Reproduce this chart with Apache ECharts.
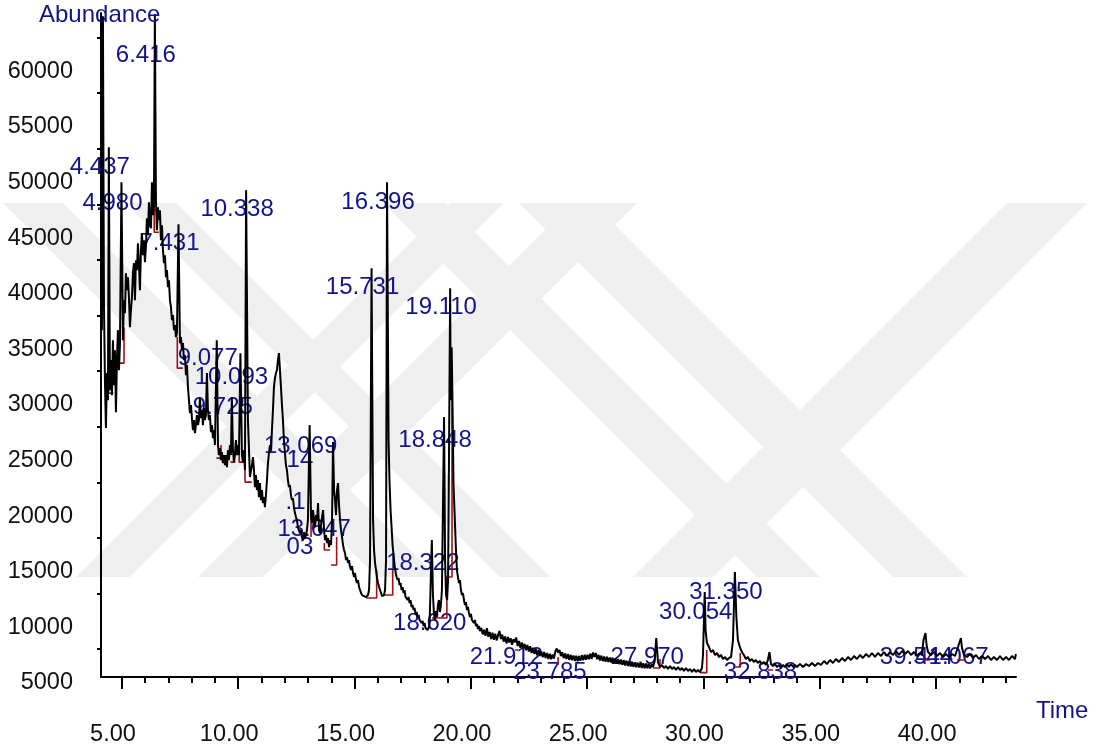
<!DOCTYPE html>
<html>
<head>
<meta charset="utf-8">
<script src="https://cdn.jsdelivr.net/npm/echarts@6/dist/echarts.min.js"></script>
<style>
  html, body { margin: 0; padding: 0; background: #ffffff; }
  #chart { width: 1100px; height: 754px; }
</style>
</head>
<body>
<div id="chart"></div>
<script>
// Total ion chromatogram: [retention time (min), abundance]
const traceEarly = [
  [4.140,36185],[4.183,64400],[4.226,38881],[4.269,31691],[4.312,27378],[4.355,32320],[4.398,29894],[4.437,52631],
  [4.484,30793],[4.527,33489],[4.570,30343],[4.613,35286],[4.656,31242],[4.699,34387],[4.742,28816],[4.785,33489],
  [4.828,36185],[4.871,32590],[4.914,34837],[4.980,49486],[5.043,35286],[5.086,38881],[5.129,37713],[5.172,41307],
  [5.215,39780],[5.258,40948],[5.301,39151],[5.344,36455],[5.387,37982],[5.430,39151],[5.473,41307],[5.516,42206],
  [5.559,38881],[5.602,42476],[5.645,41577],[5.688,44004],[5.731,42027],[5.774,39780],[5.817,43374],[5.860,44902],
  [5.903,42925],[5.946,44273],[5.989,42296],[6.032,43824],[6.075,46250],[6.118,44723],[6.161,47688],[6.204,45621],
  [6.247,45351],[6.290,49486],[6.333,46520],[6.376,47419],[6.416,64600],[6.462,47868],[6.505,45172],[6.548,47239],
  [6.591,46071],[6.634,46969],[6.677,44273],[6.720,45621],[6.763,43374],[6.806,42206],[6.849,42925],[6.892,40948],
  [6.935,41577],[6.978,40049],[7.021,40678],[7.064,38881],[7.107,38252],[7.150,37084],[7.193,37534],[7.236,36185],
  [7.279,36635],[7.322,35556],[7.365,35915],[7.431,45711],[7.494,35017],[7.537,35556],[7.580,34387],[7.623,35017],
  [7.666,33489],[7.709,33938],[7.752,32141],[7.795,33040],[7.838,31062],[7.881,29894],[7.924,28726],[7.967,29445],
  [8.009,28276],[8.052,27198],[8.095,28097],[8.138,26928],[8.181,27648],[8.224,28546],[8.267,27648],[8.310,28097],
  [8.353,30164],[8.396,28276],[8.439,28995],[8.482,27648],[8.525,29175],[8.568,28097],[8.611,28546],[8.654,32320],
  [8.697,28995],[8.740,28097],[8.783,28546],[8.826,27018],[8.869,27648],[8.912,26479],[8.955,27198],[8.998,25850],
  [9.077,35286],[9.129,25850],[9.170,24951],[9.213,25580],[9.256,24502],[9.299,25221],[9.342,24232],[9.385,24951],
  [9.428,24053],[9.471,24951],[9.514,23873],[9.557,25400],[9.600,24502],[9.643,25850],[9.686,24951],[9.725,30164],
  [9.772,25400],[9.815,24322],[9.858,24951],[9.901,26299],[9.944,24951],[9.987,25850],[10.030,24951],[10.093,34118],
  [10.159,24951],[10.202,24322],[10.245,25400],[10.288,23603],[10.338,48767]
];

const traceMiddle = [
  [10.417,28097],[10.503,22974],[10.589,24053],[10.632,24771],[10.675,23603],[10.718,22075],[10.761,23154],[10.804,21806],
  [10.847,22704],[10.890,21177],[10.933,22435],[10.976,20907],[11.019,21806],[11.062,20637],[11.105,21177],[11.148,20278],
  [11.191,21357],[11.234,22704],[11.277,24232],[11.320,25131],[11.363,25850],[11.406,25400],[11.449,27198],[11.492,28995],
  [11.535,31062],[11.578,31871],[11.621,32320],[11.664,32590],[11.707,33489],[11.750,34118],[11.793,32590],[11.836,31062],
  [11.879,29445],[11.922,28097],[11.964,26299],[12.007,25131],[12.050,24053],[12.093,23603],[12.136,22704],[12.179,22075],
  [12.222,22255],[12.265,21357],[12.308,20907],[12.351,21087],[12.394,20278],[12.437,19739],[12.480,19379],[12.523,19110],
  [12.566,18481],[12.609,18211],[12.652,17941],[12.695,18211],[12.738,17582],[12.781,17312],[12.824,18031],[12.867,17492],
  [12.910,17761],[12.953,18211],[12.996,19110],[13.069,27648],[13.129,19379],[13.172,18840],[13.215,20008],[13.258,19110],
  [13.301,18481],[13.344,19559],[13.387,19110],[13.430,20637],[13.473,18211],[13.516,17941],[13.559,18660],[13.602,19379],
  [13.647,20008],[13.688,18211],[13.731,17312],[13.774,17761],[13.817,17043],[13.860,17492],[13.903,16683],[13.946,17312],
  [13.989,16863],[14.032,19110],[14.075,26119],[14.118,21806],[14.161,20907],[14.204,19559],[14.247,21806],[14.290,22435],
  [14.333,20458],[14.376,19110],[14.419,18211],[14.462,17582],[14.505,16863],[14.548,16413],[14.591,16144],[14.634,15515],
  [14.677,15784],[14.720,15245],[14.763,15515],[14.806,14886],[14.849,14616],[14.892,14976],[14.935,14346],[14.978,13987],
  [15.021,14346],[15.064,13717],[15.107,13448],[15.150,13717],[15.193,13088],[15.236,12819],[15.279,12549],[15.322,12369],
  [15.365,12190],[15.408,12279],[15.451,12100],[15.494,12190],[15.537,12100],[15.580,12369],[15.623,12819],[15.666,15515],
  [15.731,41757],[15.795,19110],[15.838,16413],[15.881,15245],[15.924,14616],[15.967,13897],[16.010,13448],[16.053,13088],
  [16.096,12819],[16.139,12549],[16.182,12279],[16.225,12190],[16.268,12369],[16.311,12819],[16.354,15515],[16.396,49486],
  [16.462,26299],[16.505,22435],[16.548,20008],[16.591,18481],[16.634,16863],[16.677,15964],[16.720,15065],[16.763,14436],
  [16.806,13987],[16.849,13717],[16.892,13897],[16.935,13268],[16.978,13448],[17.021,12819],[17.064,13088],[17.107,12549],
  [17.150,12819],[17.193,12190],[17.236,12369],[17.279,11920],[17.322,12190],[17.365,11650],[17.408,11920],[17.451,11291],
  [17.494,11471],[17.537,11021],[17.580,11201],[17.623,10662],[17.666,10842],[17.709,10392],[17.752,10572],[17.795,10123],
  [17.838,10302],[17.881,9853],[17.924,10033],[17.967,9583],[18.010,9853],[18.052,9404],[18.095,9583],[18.138,9224],
  [18.181,9404],[18.224,9673],[18.322,17312],[18.370,12369],[18.412,10752],[18.455,10123],[18.498,10932],[18.541,10392],
  [18.584,11471],[18.627,11920],[18.670,10842],[18.713,11471],[18.756,12819],[18.848,28366],[18.891,15515],[18.934,12369],
  [18.977,11920],[19.020,13717],[19.062,25400],[19.110,39960],[19.132,29894],[19.175,34657],[19.209,29894],[19.252,22435],
  [19.316,18840],[19.359,16413],[19.402,14616],[19.445,13987],[19.488,13448],[19.531,13717],[19.574,12819],[19.617,12369],
  [19.660,12549],[19.703,11920],[19.746,11471],[19.789,11740],[19.832,11021],[19.875,11291],[19.918,10752],[19.961,10392],
  [20.003,10662],[20.046,10123],[20.089,10302],[20.132,9853],[20.175,10123],[20.218,9583],[20.261,9763],[20.304,9314],
  [20.347,9583],[20.390,9134]
];

const traceLate = [
  [20.45,9420],[20.51,8830],[20.57,9250],[20.63,8700],[20.69,9380],[20.75,8610],[20.81,9050],[20.87,8420],
  [20.93,8980],[20.99,8350],[21.05,8900],[21.11,8290],[21.17,8760],[21.23,9150],[21.29,8420],[21.35,8810],
  [21.41,8180],[21.47,8650],[21.53,8020],[21.59,8590],[21.65,8100],[21.71,8480],[21.77,7890],[21.83,8400],
  [21.89,8120],[21.95,8560],[22.01,7790],[22.07,8230],[22.13,7620],[22.19,8110],[22.25,7560],[22.31,7980],
  [22.37,7400],[22.43,7870],[22.49,7290],[22.55,7760],[22.61,7150],[22.67,7620],[22.73,7080],[22.79,7510],
  [22.85,6960],[22.91,7420],[22.97,6890],[23.03,7300],[23.09,6780],[23.15,7240],[23.21,6700],[23.27,7150],
  [23.33,6620],[23.39,7100],[23.45,6590],[23.51,7020],[23.57,6650],[23.63,7280],[23.69,7560],[23.75,7180],
  [23.81,7420],[23.87,6880],[23.93,7230],[23.99,6700],[24.05,7120],[24.11,6620],[24.17,7060],[24.23,6540],
  [24.29,6990],[24.35,6500],[24.41,6940],[24.47,6450],[24.53,6900],[24.59,6420],[24.65,6880],[24.71,6470],
  [24.77,6950],[24.83,6500],[24.89,7010],[24.95,6560],[25.01,6990],[25.07,6600],[25.13,7080],[25.19,6620],
  [25.25,7210],[25.31,6800],[25.37,7150],[25.43,6590],[25.49,6990],[25.55,6480],[25.61,6920],[25.67,6430],
  [25.73,6850],[25.79,6380],[25.85,6820],[25.91,6360],[25.97,6760],[26.03,6310],[26.09,6740],[26.15,6260],
  [26.21,6680],[26.27,6200],[26.33,6620],[26.39,6150],[26.45,6580],[26.51,6090],[26.57,6520],[26.63,6040],
  [26.69,6470],[26.75,5990],[26.81,6420],[26.87,5950],[26.93,6380],[26.99,5910],[27.05,6330],[27.11,5880],
  [27.17,6290],[27.23,5850],[27.29,6250],[27.35,5820],[27.41,6230],[27.47,5800],[27.53,6200],[27.59,5780],
  [27.65,6180],[27.71,5770],[27.77,6150],[27.83,5900],[27.90,6400],
  [27.970,8505],[28.044,6348],[28.130,5899],[28.216,6078],[28.302,5809],[28.388,5989],[28.474,5719],[28.560,5989],
  [28.646,5719],[28.732,5899],[28.818,5629],[28.904,5899],[28.990,5629],[29.076,5809],[29.162,5539],[29.248,5809],
  [29.334,5539],[29.420,5719],[29.506,5449],[29.592,5719],[29.678,5449],[29.764,5629],[29.850,5449],[29.936,5809],
  [29.979,6977],[30.054,12639],[30.090,9224],[30.151,8056],[30.237,7696],[30.323,7247],[30.409,7426],[30.495,6977],
  [30.581,7157],[30.667,6797],[30.753,6977],[30.839,6618],[30.925,6797],[31.011,6528],[31.097,6708],[31.183,6797],
  [31.269,8325],[31.350,14436],[31.414,10392],[31.479,8325],[31.565,7696],[31.651,7247],[31.737,6977],[31.823,6618],
  [31.909,6797],[31.995,6438],[32.081,6618],[32.167,6348],[32.253,6528],[32.339,6258],[32.425,6438],[32.511,6168],
  [32.597,6348],[32.683,6078],[32.769,6528],[32.838,7247],[32.902,6168],[32.988,5989],[33.074,6168],[33.160,5899],
  [33.246,6078],[33.332,5809],[33.418,6078],[33.504,5899],[33.590,6168],[33.676,5899],[33.762,6168],[33.848,5899],
  [33.934,6078],[34.020,5899],[34.149,6168],[34.278,5899],[34.407,6168],[34.536,5989],[34.665,6258],[34.794,5989],
  [34.923,6258],[35.052,6078],[35.181,6438],[35.310,6168],[35.439,6528],[35.568,6258],[35.697,6618],[35.826,6348],
  [35.955,6708],[36.084,6438],[36.213,6797],[36.342,6528],[36.471,6887],[36.599,6618],[36.728,6977],[36.857,6708],
  [36.986,7067],[37.115,6797],[37.244,7157],[37.373,6797],[37.502,7157],[37.631,6887],[37.760,7247],[37.889,6887],
  [38.018,7247],[38.147,6977],[38.276,7337],[38.405,6977],[38.534,7337],[38.663,7067],[38.792,7337],[38.921,6977],
  [39.050,7247],[39.179,6887],[39.308,7157],[39.394,6977],[39.458,8325],[39.544,8954],[39.590,7876],[39.652,7247],
  [39.781,6977],[39.910,7247],[40.039,6887],[40.168,7157],[40.297,6797],[40.426,7067],[40.555,6797],[40.684,7067],
  [40.813,6887],[40.899,7426],[41.067,8505],[41.113,7606],[41.199,6977],[41.328,6797],[41.457,7067],[41.586,6708],
  [41.715,6977],[41.844,6618],[41.973,6887],[42.102,6618],[42.231,6887],[42.360,6528],[42.489,6797],[42.618,6528],
  [42.747,6887],[42.876,6528],[43.005,6797],[43.134,6528],[43.263,6887],[43.392,6618],[43.430,7067]
];

// Integration baselines drawn under the integrated peaks
const baselines = [
  [[4.43,32320],[4.43,30523],[4.63,30523]],
  [[4.91,33219],[5.09,33219],[5.09,36455]],
  [[6.39,47419],[6.39,44992],[6.59,44992]],
  [[7.38,35556],[7.38,32770],[7.62,32770]],
  [[9.06,24681],[9.26,24681],[9.26,25850]],
  [[9.66,24322],[9.88,24322]],
  [[10.04,25580],[10.04,24322],[10.29,24322],[10.29,22525],[10.58,22525]],
  [[13.13,19379],[13.13,17582]],
  [[13.70,17043],[13.70,16413],[13.95,16413]],
  [[13.99,15065],[14.23,15065],[14.23,17582]],
  [[15.50,12100],[15.95,12100],[15.95,14616]],
  [[16.27,12369],[16.64,12369],[16.64,14616]],
  [[18.33,10302],[18.97,10302],[18.97,13987],[19.19,13987],[19.19,31062]],
  [[21.90,7426],[22.05,7426]],
  [[23.75,6797],[23.75,6078]],
  [[27.83,5809],[28.13,5809],[28.13,6618]],
  [[29.85,5389],[30.14,5389],[30.14,7426]],
  [[31.27,5899],[31.58,5899],[31.58,7157]],
  [[32.77,5629],[32.99,5629]],
  [[39.44,6528],[39.74,6528]],
  [[40.90,6528],[41.24,6528]]
];

// Peak annotations: text, anchor time, anchor abundance
const peakLabels = ['4.437','4.980','6.416','7.431','10.338','9.077','10.093','9.725','13.069','14','.1','13.647','03',
  '15.731','16.396','18.322','18.620','18.848','19.110','21.912','23.785','27.970','30.054','31.350','32.838','39.544','41.067'];
const labelTimes = [4.437,4.980,6.416,7.431,10.338,9.077,10.093,9.725,13.069,13.04,12.85,13.647,13.04,
  15.731,16.396,18.322,18.620,18.848,19.110,21.912,23.785,27.970,30.054,31.350,32.838,39.544,41.067];
const labelLevels = [50834,47598,60899,44004,47059,33669,31961,29265,25760,24502,20727,18301,16683,
  40049,47688,15245,9853,26299,38252,6797,5449,6797,10842,12639,5449,6797,6797];

const yLabelValues = [5000,10000,15000,20000,25000,30000,35000,40000,45000,50000,55000,60000];
const yTickValues = [7500,12500,17500,22500,27500,32500,37500,42500,47500,52500,57500,62500];
const xLabelValues = [5,10,15,20,25,30,35,40];
const xMinorValues = [5,6,7,8,9,10,11,12,13,14,15,16,17,18,19,20,21,22,23,24,25,26,27,28,29,30,31,32,33,34,35,36,37,38,39,40,41,42,43];

const FONT = '"Liberation Sans", Arial, sans-serif';
const NAVY = '#14148a';
const X_MIN = 4.1, X_MAX = 43.435;

// Faint page watermark: diagonal stripes between two horizontal cuts
const STRIPE_TOP = 203, STRIPE_BOTTOM = 577;
const stripes = [
  { dir: 'down', from: -200, to: -140 },
  { dir: 'down', from: -77, to: -27 },
  { dir: 'down', from: 180, to: 243 },
  { dir: 'down', from: 316, to: 390 },
  { dir: 'up', from: 653, to: 707 },
  { dir: 'up', from: 775, to: 840 },
  { dir: 'up', from: 1210, to: 1290 }
];
function stripePoints(s) {
  const y0 = STRIPE_TOP, y1 = STRIPE_BOTTOM;
  if (s.dir === 'down') {
    return [[s.from + y0, y0], [s.to + y0, y0], [s.to + y1, y1], [s.from + y1, y1]];
  }
  return [[s.from - y0, y0], [s.to - y0, y0], [s.to - y1, y1], [s.from - y1, y1]];
}
const watermark = stripes.map(s => ({
  type: 'polygon', z: -10, silent: true,
  shape: { points: stripePoints(s) },
  style: { fill: '#efefef' }
}));

const chart = echarts.init(document.getElementById('chart'), null, { renderer: 'canvas' });

const baselineSeries = baselines.map(seg => ({
  type: 'line',
  data: seg,
  showSymbol: false,
  symbol: 'none',
  z: 2,
  lineStyle: { color: '#a01212', width: 1.6 },
  silent: true
}));

chart.setOption({
  animation: false,
  backgroundColor: '#ffffff',
  grid: { left: 101, right: 84, top: 13, bottom: 77 },
  xAxis: [
    {
      type: 'value', min: X_MIN, max: X_MAX,
      axisLine: { lineStyle: { color: '#000', width: 2 } },
      axisTick: { customValues: xLabelValues, length: 12, lineStyle: { color: '#000', width: 2 } },
      axisLabel: {
        customValues: xLabelValues, formatter: v => v.toFixed(2),
        fontSize: 23.5, fontFamily: FONT, color: '#111', margin: 46, padding: [0, 18, 0, 0]
      },
      splitLine: { show: false }
    },
    {
      type: 'value', min: X_MIN, max: X_MAX, position: 'bottom',
      axisLine: { show: false },
      axisTick: { show: true, customValues: xMinorValues, length: 6, lineStyle: { color: '#000', width: 2 } },
      axisLabel: { show: false },
      splitLine: { show: false }
    }
  ],
  yAxis: {
    type: 'value', min: 5000, max: 64700,
    axisLine: { show: true, lineStyle: { color: '#000', width: 2 } },
    axisTick: { show: true, customValues: yTickValues, length: 4, lineStyle: { color: '#000', width: 2 } },
    axisLabel: {
      customValues: yLabelValues, formatter: v => String(v),
      fontSize: 23.5, fontFamily: FONT, color: '#111',
      margin: 28, verticalAlign: 'top', lineHeight: 12
    },
    splitLine: { show: false }
  },
  graphic: watermark.concat([
    { type: 'text', x: 39, y: 15, z: 10,
      style: { text: 'Abundance', fontSize: 24, fontFamily: FONT, fill: NAVY, verticalAlign: 'middle' } },
    { type: 'text', x: 1036, y: 711, z: 10,
      style: { text: 'Time', fontSize: 24, fontFamily: FONT, fill: NAVY, verticalAlign: 'middle' } }
  ]),
  series: [
    {
      type: 'scatter',
      z: 1,
      symbolSize: 0,
      silent: true,
      itemStyle: { opacity: 1 },
      data: labelTimes.map((t, i) => [t, labelLevels[i]]),
      label: {
        show: true, position: 'inside', padding: [0, 18, 0, 0],
        formatter: p => peakLabels[p.dataIndex],
        fontSize: 24, fontFamily: FONT, color: NAVY, opacity: 1,
        textBorderWidth: 0
      },
      labelLayout: { hideOverlap: false }
    },
    {
      type: 'line',
      z: 3,
      data: traceEarly.concat(traceMiddle, traceLate),
      showSymbol: false,
      symbol: 'none',
      silent: true,
      lineStyle: { color: '#000', width: 2 }
    }
  ].concat(baselineSeries)
});
</script>
</body>
</html>
